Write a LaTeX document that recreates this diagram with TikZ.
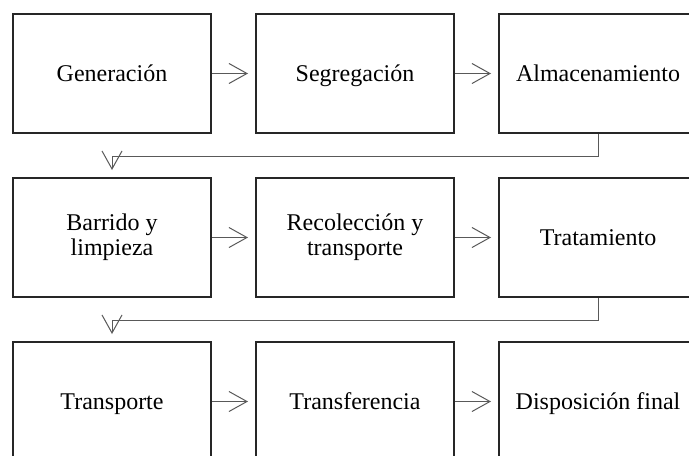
\documentclass[tikz,border=0pt]{standalone}
\usepackage{fontspec}
\setmainfont{Liberation Serif}
\usetikzlibrary{arrows.meta}

\tikzset{
    stage/.style={draw=black!85, line width=1pt, minimum width=99pt, minimum height=59.5pt,
        inner sep=0pt, align=center, font=\fontsize{12}{12.5}\selectfont,
        execute at begin node=\rule{0pt}{11pt}, execute at end node=\rule[-3pt]{0pt}{3pt}},
    flow/.style={draw=black!65, line width=0.5pt, shorten >=3.5pt,
        -{Straight Barb[length=9pt, width=10pt]}}
}

\begin{document}
\begin{tikzpicture}[x=0.5pt, y=-0.5pt]
    \path[use as bounding box, clip] (0,0) rectangle (689,455);
    % first row
    \node[stage] (gen) at (112,73.5) {Generación};
    \node[stage] (seg) at (355,73.5) {Segregación};
    \node[stage] (alm) at (598,73.5) {Almacenamiento};
    % second row
    \node[stage] (bar) at (112,237.5) {Barrido y\\limpieza};
    \node[stage] (rec) at (355,237.5) {Recolección y\\transporte};
    \node[stage] (tra) at (598,237.5) {Tratamiento};
    % third row
    \node[stage] (trp) at (112,401.5) {Transporte};
    \node[stage] (trf) at (355,401.5) {Transferencia};
    \node[stage] (dis) at (598,401.5) {Disposición final};
    \draw[flow] (gen) -- (seg);
    \draw[flow] (seg) -- (alm);
    \draw[flow] (bar) -- (rec);
    \draw[flow] (rec) -- (tra);
    \draw[flow] (trp) -- (trf);
    \draw[flow] (trf) -- (dis);
    \draw[flow] (alm.south) -- ++(0,22) -| (bar.north);
    \draw[flow] (tra.south) -- ++(0,22) -| (trp.north);
\end{tikzpicture}
\end{document}
